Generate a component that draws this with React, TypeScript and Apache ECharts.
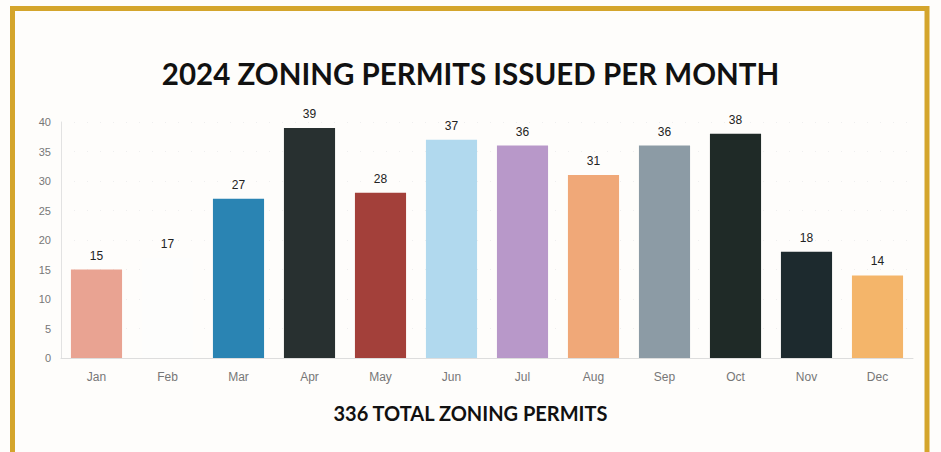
import React, { useEffect, useRef } from "react";
import * as echarts from "echarts";

const months = ["Jan", "Feb", "Mar", "Apr", "May", "Jun", "Jul", "Aug", "Sep", "Oct", "Nov", "Dec"];
const permits = [15, 17, 27, 39, 28, 37, 36, 31, 36, 38, 18, 14];
const barColors = [
  "#e9a392", "#fdfdfc", "#2a84b3", "#283030", "#a3403a", "#b1d9ee",
  "#b898c9", "#f0a878", "#8c9ba5", "#1f2a27", "#1d2a2e", "#f4b56a",
];
const yTicks = [0, 5, 10, 15, 20, 25, 30, 35, 40];
const titleText = "2024 ZONING PERMITS ISSUED PER MONTH";
const footerText = "336 TOTAL ZONING PERMITS";

export default function App() {
  const ref = useRef<HTMLDivElement>(null);
  useEffect(() => {
    if (!ref.current) return;
    const chart = echarts.init(ref.current, null, { renderer: "svg" });
    chart.setOption({
      animation: false,
      backgroundColor: "#fefdfb",
      title: [
        {
          text: titleText,
          left: "center",
          top: 53,
          textStyle: { fontFamily: "Lato", fontWeight: "bold", fontSize: 29.5, color: "#111" },
        },
        {
          text: footerText,
          left: "center",
          top: 398,
          textStyle: { fontFamily: "Lato", fontWeight: "bold", fontSize: 20, color: "#111" },
        },
      ],
      graphic: [
        {
          type: "rect",
          shape: { x: 12.5, y: 8.5, width: 914.5, height: 470 },
          style: { fill: "none", stroke: "#d4a52c", lineWidth: 5 },
          z: 100,
        },
      ],
      grid: { left: 61, right: 28, top: 122, bottom: 94 },
      xAxis: {
        type: "category",
        data: months,
        axisLine: { show: true, lineStyle: { color: "#dddddd" } },
        axisTick: { show: false },
        axisLabel: { color: "#777", fontFamily: "Liberation Sans", fontSize: 12, margin: 13 },
      },
      yAxis: {
        type: "value",
        min: yTicks[0],
        max: yTicks[yTicks.length - 1],
        interval: 5,
        axisLine: { show: true, lineStyle: { color: "#e2e2e2" } },
        axisTick: { show: false },
        axisLabel: { color: "#777", fontFamily: "Liberation Sans", fontSize: 11, margin: 10 },
        splitLine: { show: true, lineStyle: { color: "#eeeeee", type: [1, 12] } },
      },
      series: [
        {
          type: "bar",
          data: permits.map((v, i) => ({ value: v, itemStyle: { color: barColors[i] } })),
          barWidth: "72%",
          label: {
            show: true,
            position: "top",
            distance: 8,
            color: "#222",
            fontFamily: "Liberation Sans",
            fontSize: 12,
          },
        },
      ],
    });
    return () => chart.dispose();
  }, []);
  return (
    <div
      ref={ref}
      style={{ position: "absolute", left: 0, top: 0, width: 941, height: 452 }}
    />
  );
}
